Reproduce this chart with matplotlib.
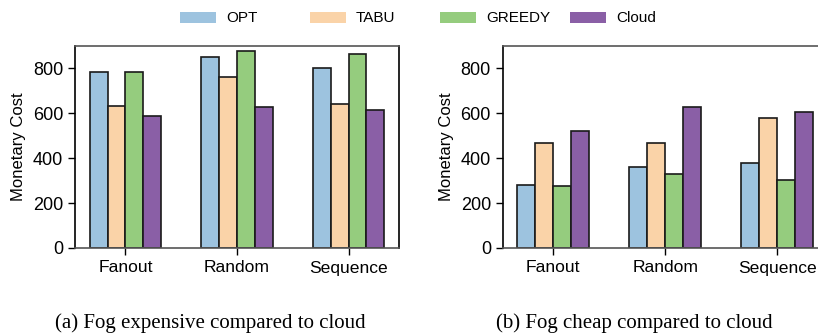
import matplotlib.pyplot as plt
import numpy as np
from matplotlib.patches import Rectangle

plt.rcParams['font.family'] = ['Liberation Sans', 'DejaVu Sans']

workloads = ['Fanout', 'Random', 'Sequence']
methods = ['OPT', 'TABU', 'GREEDY', 'Cloud']
colors = ['#9dc3df', '#fad3a8', '#95cc7e', '#8a5fa6']

# fog expensive compared to cloud
cost_expensive = {
    'OPT':    [782, 849, 800],
    'TABU':   [632, 762, 641],
    'GREEDY': [786, 877, 866],
    'Cloud':  [589, 629, 615],
}
# fog cheap compared to cloud
cost_cheap = {
    'OPT':    [280, 361, 379],
    'TABU':   [468, 468, 577],
    'GREEDY': [276, 329, 302],
    'Cloud':  [522, 629, 606],
}

W, H = 818, 335
fig = plt.figure(figsize=(W / 100, H / 100), dpi=100)
ax1 = fig.add_axes([75 / W, 87 / H, 324 / W, 202 / H])
ax2 = fig.add_axes([502.7 / W, 87 / H, 325 / W, 202 / H])

x = np.arange(len(workloads))
w = 0.16

for ax, data in [(ax1, cost_expensive), (ax2, cost_cheap)]:
    for i, m in enumerate(methods):
        ax.bar(x + (i - 1.5) * w, data[m], w, color=colors[i],
               edgecolor='#1a1a1a', linewidth=1.2)
    ax.set_ylim(0, 900)
    ax.set_xlim(-0.452, 2.452)
    ax.set_xticks(x)
    ax.set_xticklabels(workloads, fontsize=12.6)
    ax.set_yticks([0, 200, 400, 600, 800])
    ax.tick_params(axis='y', labelsize=13, length=5, width=1)
    ax.tick_params(axis='x', length=5, width=1, pad=4)
    ax.set_ylabel('Monetary Cost', fontsize=12, labelpad=5)
    for s in ['top', 'bottom']:
        ax.spines[s].set_color('#555555')
    for s in ax.spines.values():
        s.set_linewidth(1.2)

# legend row across the top, evenly spaced entries
for i, m in enumerate(methods):
    x0 = 180 + 130 * i
    fig.patches.append(Rectangle((x0 / W, (H - 23) / H), 36 / W, 11 / H,
                                 transform=fig.transFigure,
                                 facecolor=colors[i], edgecolor='none'))
    fig.text((x0 + 46) / W, (H - 18) / H, m, fontsize=11, va='center')

fig.text(210.7 / W, 7 / H, '(a) Fog expensive compared to cloud', ha='center',
         va='baseline', fontsize=15, family='Liberation Serif')
fig.text(634.7 / W, 7 / H, '(b) Fog cheap compared to cloud', ha='center',
         va='baseline', fontsize=15, family='Liberation Serif')

fig.savefig('out.png', dpi=100)
